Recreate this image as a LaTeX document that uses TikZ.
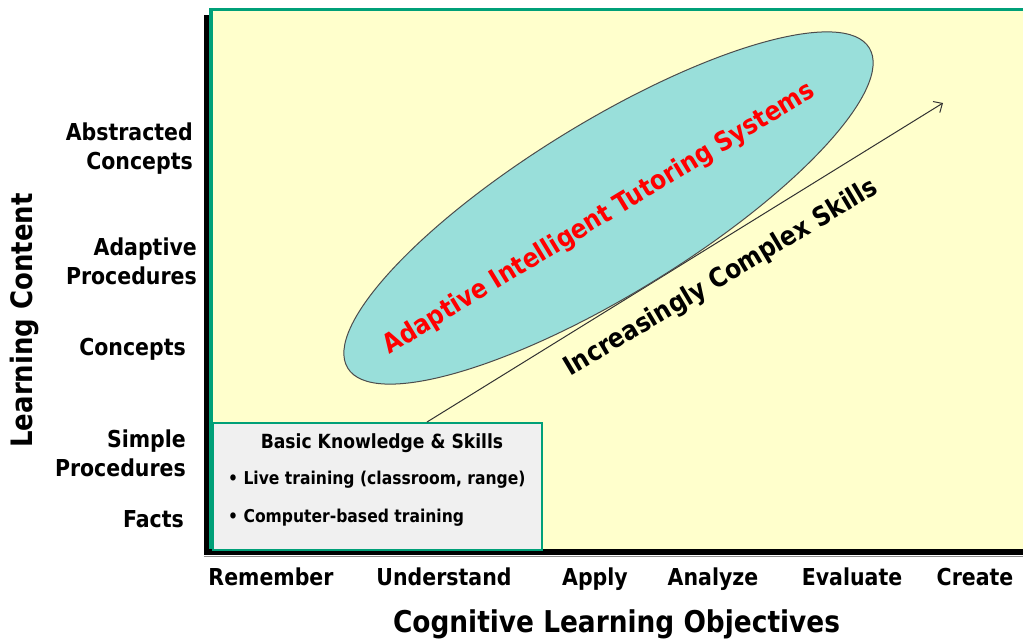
\documentclass[tikz,border=0pt]{standalone}
\usepackage{fontspec}
\setmainfont{DejaVu Sans}[FakeStretch=0.88]
\usetikzlibrary{shapes.geometric,arrows.meta}
\definecolor{bgyellow}{RGB}{255,255,204}
\definecolor{frgreen}{RGB}{0,160,120}
\definecolor{elfill}{RGB}{153,223,218}
\definecolor{boxgray}{RGB}{240,240,240}
\definecolor{arrowgray}{RGB}{50,50,50}
\begin{document}
\begin{tikzpicture}[x=1pt,y=-1pt,
  lab/.style={font=\fontsize{23.3}{29}\selectfont\bfseries, inner sep=0pt},
  boxtxt/.style={font=\fontsize{17.7}{21}\selectfont\bfseries, inner sep=0pt},
  slanted/.style={font=\fontsize{26.5}{32}\selectfont\bfseries, inner sep=0pt}]
\useasboundingbox (0,0) rectangle (1023,641);
% plot area
\path[fill=bgyellow, draw=frgreen, line width=3.5pt] (211,9.5) rectangle (1035,551);
\draw[black!45, line width=1.5pt] (204,556.5) -- (1030,556.5);
\draw[black, line width=5pt] (206.5,15) -- (206.5,555);
\draw[black, line width=6pt] (204,552) -- (1030,552);
% box
\node[draw=frgreen, line width=2.5pt, fill=boxgray, minimum width=329pt, minimum height=127pt, inner sep=0pt] (box) at (377.5,486.5) {};
\node[font=\fontsize{19.5}{23}\selectfont\bfseries, inner sep=0pt, anchor=base] (boxtitle) at (382,448) {Basic Knowledge \& Skills};
\node[boxtxt, anchor=base west] (b1) at (228,484) {• Live training (classroom, range)};
\node[boxtxt, anchor=base west] (b2) at (228,522) {• Computer-based training};
% arrow (drawn below the ellipse)
\coordinate (astart) at (427,422);
\coordinate (aend) at (943,103);
\draw[arrowgray, line width=1pt, -{Straight Barb[length=7pt,width=13pt]}] (astart) -- (aend);
% ellipse
\node[ellipse, draw=black!70, line width=1pt, fill=elfill, minimum width=612pt, minimum height=172pt, inner sep=0pt, rotate=31.55] (its) at (608.5,208) {};
\node[slanted, text=red, rotate=31.3, anchor=base] (itstxt) at (603,225) {Adaptive Intelligent Tutoring Systems};
\node[slanted, rotate=30.8, anchor=base] (skills) at (725,284.5) {Increasingly Complex Skills};
% y labels
\node[lab, align=right, anchor=north east] (abs) at (193,123) {Abstracted\\Concepts};
\node[lab, align=right, anchor=north east] (adp) at (197,238) {Adaptive\\Procedures};
\node[lab, anchor=base east] (con) at (186,355) {Concepts};
\node[lab, align=right, anchor=north east] (sim) at (186,430) {Simple\\Procedures};
\node[lab, anchor=base east] (fac) at (184,527) {Facts};
% x labels
\node[lab, anchor=base] (rem) at (271,585) {Remember};
\node[lab, anchor=base] (und) at (444,585) {Understand};
\node[lab, anchor=base] (app) at (595,585) {Apply};
\node[lab, anchor=base] (ana) at (713,585) {Analyze};
\node[lab, anchor=base] (eva) at (852,585) {Evaluate};
\node[lab, anchor=base] (cre) at (975,585) {Create};
% axis titles
\node[font=\fontsize{30}{36}\selectfont\bfseries, inner sep=0pt, anchor=base] (xtitle) at (616.5,632) {Cognitive Learning Objectives};
\node[font=\fontsize{29.5}{36}\selectfont\bfseries, inner sep=0pt, rotate=90, anchor=base] (ytitle) at (32,320.5) {Learning Content};
\end{tikzpicture}
\end{document}
